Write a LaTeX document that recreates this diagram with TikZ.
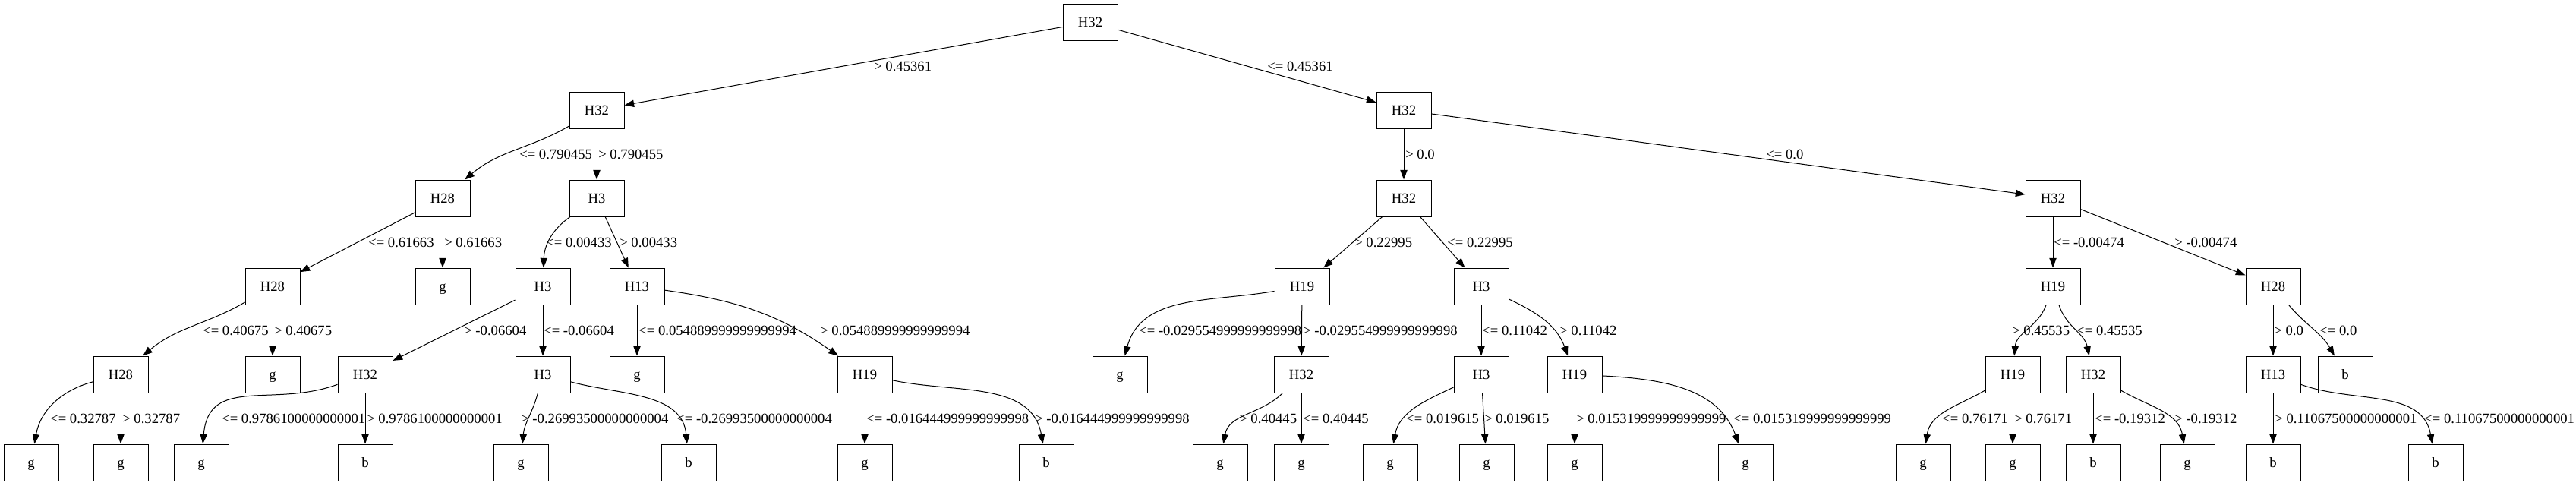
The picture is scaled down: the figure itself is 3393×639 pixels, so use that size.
\documentclass[tikz,border=0pt]{standalone}
\usepackage{fontspec}
\setmainfont{Liberation Serif}
\usetikzlibrary{arrows.meta}
\begin{document}
\begin{tikzpicture}[x=0.75pt,y=0.75pt,
  box/.style={draw, line width=0.75pt, minimum width=54pt, minimum height=36pt, inner sep=0pt,
    font=\fontsize{14pt}{16pt}\selectfont, text height=9pt, text depth=0pt},
  lbl/.style={anchor=west, inner sep=0pt, font=\fontsize{14pt}{16pt}\selectfont, text height=9pt, text depth=0pt},
  edge/.style={line width=0.75pt, -{Triangle[length=9.5pt,width=7pt]}}]
\useasboundingbox (0,0) rectangle (3393,-639);
% row 0
\node[box] (n0) at (1436,-29) {H32};
% row 1
\node[box] (nL) at (786,-145) {H32};
\node[box] (nR) at (1849,-145) {H32};
% row 2
\node[box] (a1) at (583,-261) {H28};
\node[box] (a2) at (786,-261) {H3};
\node[box] (a3) at (1849,-261) {H32};
\node[box] (a4) at (2704,-261) {H32};
% row 3
\node[box] (b1) at (359,-377) {H28};
\node[box] (b2) at (583,-377) {g};
\node[box] (b3) at (715,-377) {H3};
\node[box] (b4) at (839,-377) {H13};
\node[box] (b5) at (1715,-377) {H19};
\node[box] (b6) at (1951,-377) {H3};
\node[box] (b7) at (2704,-377) {H19};
\node[box] (b8) at (2994,-377) {H28};
% row 4
\node[box] (c1) at (159,-493) {H28};
\node[box] (c2) at (359,-493) {g};
\node[box] (c3) at (481,-493) {H32};
\node[box] (c4) at (715,-493) {H3};
\node[box] (c5) at (839,-493) {g};
\node[box] (c6) at (1139,-493) {H19};
\node[box] (c7) at (1475,-493) {g};
\node[box] (c8) at (1714,-493) {H32};
\node[box] (c9) at (1951,-493) {H3};
\node[box] (c10) at (2074,-493) {H19};
\node[box] (c11) at (2651,-493) {H19};
\node[box] (c12) at (2757,-493) {H32};
\node[box] (c13) at (2994,-493) {H13};
\node[box] (c14) at (3089,-493) {b};
% row 5
\node[box] (d1) at (41,-609) {g};
\node[box] (d2) at (159,-609) {g};
\node[box] (d3) at (265,-609) {g};
\node[box] (d4) at (481,-609) {b};
\node[box] (d5) at (686,-609) {g};
\node[box] (d6) at (907,-609) {b};
\node[box] (d7) at (1139,-609) {g};
\node[box] (d8) at (1378,-609) {b};
\node[box] (d9) at (1607,-609) {g};
\node[box] (d10) at (1714,-609) {g};
\node[box] (d11) at (1831,-609) {g};
\node[box] (d12) at (1958,-609) {g};
\node[box] (d13) at (2074,-609) {g};
\node[box] (d14) at (2299,-609) {g};
\node[box] (d15) at (2533,-609) {g};
\node[box] (d16) at (2651,-609) {g};
\node[box] (d17) at (2757,-609) {b};
\node[box] (d18) at (2881,-609) {g};
\node[box] (d19) at (2994,-609) {b};
\node[box] (d20) at (3208,-609) {b};

% edges
\draw[edge] (n0) -- (nL);
\draw[edge] (n0) -- (nR);
\draw[edge] (nL) to[out=210,in=40] (a1);
\draw[edge] (nL) -- (a2);
\draw[edge] (nR) -- (a3);
\draw[edge] (nR) -- (a4);
\draw[edge] (a1) -- (b1);
\draw[edge] (a1) -- (b2);
\draw[edge] (a2) to[out=215,in=88] (b3);
\draw[edge] (a2) -- (b4);
\draw[edge] (a3) -- (b5);
\draw[edge] (a3) -- (b6);
\draw[edge] (a4) -- (b7);
\draw[edge] (a4) -- (b8);
\draw[edge] (b1) to[out=210,in=40] (c1);
\draw[edge] (b1) -- (c2);
\draw[edge] (b3) -- (c3);
\draw[edge] (b3) -- (c4);
\draw[edge] (b4) -- (c5);
\draw[edge] (b4) to[out=-8,in=145] (c6);
\draw[edge] (b5) to[out=190,in=75] (c7);
\draw[edge] (b5) -- (c8);
\draw[edge] (b6) -- (c9);
\draw[edge] (b6) to[out=-25,in=110] (c10);
\draw[edge] (b7) to[out=250,in=85] (c11);
\draw[edge] (b7) to[out=-72,in=102] (c12);
\draw[edge] (b8) -- (c13);
\draw[edge] (b8) to[out=-50,in=120] (c14);
\draw[edge] (c1) to[out=195,in=80] (d1);
\draw[edge] (c1) -- (d2);
\draw[edge] (c3) to[out=200,in=85,looseness=1.2] (d3);
\draw[edge] (c3) -- (d4);
\draw[edge] (c4) to[out=255,in=85] (d5);
\draw[edge] (c4) to[out=-15,in=95] (d6);
\draw[edge] (c6) -- (d7);
\draw[edge] (c6) to[out=-12,in=100] (d8);
\draw[edge] (c8) to[out=225,in=80] (d9);
\draw[edge] (c8) -- (d10);
\draw[edge] (c9) to[out=205,in=80] (d11);
\draw[edge] (c9) -- (d12);
\draw[edge] (c10) -- (d13);
\draw[edge] (c10) to[out=-3,in=110] (d14);
\draw[edge] (c11) to[out=210,in=82] (d15);
\draw[edge] (c11) -- (d16);
\draw[edge] (c12) -- (d17);
\draw[edge] (c12) to[out=-30,in=100] (d18);
\draw[edge] (c13) -- (d19);
\draw[edge] (c13) to[out=-20,in=100] (d20);

% labels
\node[lbl] (l01) at (1151,-87) {> 0.45361};
\node[lbl] (l02) at (1669,-87) {<= 0.45361};
\node[lbl] (l11) at (684,-203) {<= 0.790455};
\node[lbl] (l12) at (788,-203) {> 0.790455};
\node[lbl] (l13) at (1851,-203) {> 0.0};
\node[lbl] (l14) at (2326,-203) {<= 0.0};
\node[lbl] (l21) at (485,-319) {<= 0.61663};
\node[lbl] (l22) at (585,-319) {> 0.61663};
\node[lbl] (l23) at (719,-319) {<= 0.00433};
\node[lbl] (l24) at (816,-319) {> 0.00433};
\node[lbl] (l25) at (1784,-319) {> 0.22995};
\node[lbl] (l26) at (1906,-319) {<= 0.22995};
\node[lbl] (l27) at (2705,-319) {<= -0.00474};
\node[lbl] (l28) at (2864,-319) {> -0.00474};
\node[lbl] (l31) at (267,-435) {<= 0.40675};
\node[lbl] (l32) at (361,-435) {> 0.40675};
\node[lbl] (l33) at (611,-435) {> -0.06604};
\node[lbl] (l34) at (716,-435) {<= -0.06604};
\node[lbl] (l35) at (841,-435) {<= 0.054889999999999994};
\node[lbl] (l36) at (1080,-435) {> 0.054889999999999994};
\node[lbl] (l37) at (1500,-435) {<= -0.029554999999999998};
\node[lbl] (l38) at (1716,-435) {> -0.029554999999999998};
\node[lbl] (l39) at (1952,-435) {<= 0.11042};
\node[lbl] (l310) at (2054,-435) {> 0.11042};
\node[lbl] (l311) at (2650,-435) {> 0.45535};
\node[lbl] (l312) at (2735,-435) {<= 0.45535};
\node[lbl] (l313) at (2995,-435) {> 0.0};
\node[lbl] (l314) at (3055,-435) {<= 0.0};
\node[lbl] (l41) at (66,-551) {<= 0.32787};
\node[lbl] (l42) at (161,-551) {> 0.32787};
\node[lbl] (l43) at (292,-551) {<= 0.9786100000000001};
\node[lbl] (l44) at (483,-551) {> 0.9786100000000001};
\node[lbl] (l45) at (686,-551) {> -0.26993500000000004};
\node[lbl] (l46) at (891,-551) {<= -0.26993500000000004};
\node[lbl] (l47) at (1141,-551) {<= -0.016444999999999998};
\node[lbl] (l48) at (1363,-551) {> -0.016444999999999998};
\node[lbl] (l49) at (1632,-551) {> 0.40445};
\node[lbl] (l410) at (1716,-551) {<= 0.40445};
\node[lbl] (l411) at (1852,-551) {<= 0.019615};
\node[lbl] (l412) at (1955,-551) {> 0.019615};
\node[lbl] (l413) at (2076,-551) {> 0.015319999999999999};
\node[lbl] (l414) at (2283,-551) {<= 0.015319999999999999};
\node[lbl] (l415) at (2558,-551) {<= 0.76171};
\node[lbl] (l416) at (2653,-551) {> 0.76171};
\node[lbl] (l417) at (2759,-551) {<= -0.19312};
\node[lbl] (l418) at (2864,-551) {> -0.19312};
\node[lbl] (l419) at (2996,-551) {> 0.11067500000000001};
\node[lbl] (l420) at (3193,-551) {<= 0.11067500000000001};
\end{tikzpicture}
\end{document}
